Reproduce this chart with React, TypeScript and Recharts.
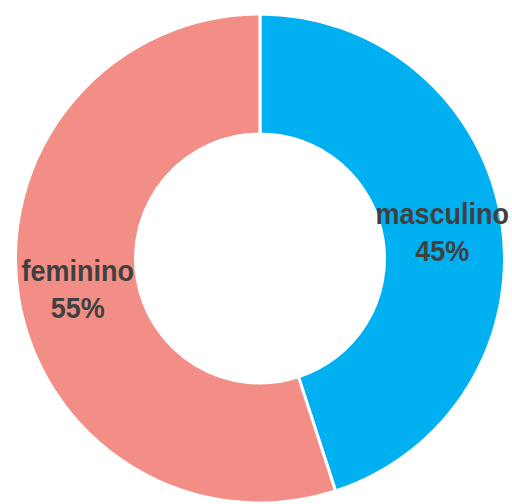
import { PieChart, Pie, Cell } from "recharts";

const categories = ["masculino", "feminino"];
const shares = [45, 55];
const COLORS = ["#00B0F0", "#F28E86"];

const data = categories.map((name, i) => ({ name, value: shares[i] }));

const RADIAN = Math.PI / 180;

const renderLabel = (props: any) => {
  const { cx, cy, midAngle, innerRadius, outerRadius, name, value } = props;
  const r = (innerRadius + outerRadius) / 2;
  const x = cx + r * Math.cos(-midAngle * RADIAN);
  const y = cy + r * Math.sin(-midAngle * RADIAN);
  // condensed look: squeeze the bold sans horizontally
  return (
    <text
      transform={`translate(${x}, ${y}) scale(0.9, 1)`}
      textAnchor="middle"
      fill="#404040"
      fontFamily="'Liberation Sans', Arial, sans-serif"
      fontWeight="bold"
      fontSize={30}
    >
      <tspan x={0} y={-6}>
        {name}
      </tspan>
      <tspan x={0} y={31}>
        {value}%
      </tspan>
    </text>
  );
};

const App = () => {
  return (
    <div style={{ position: "absolute", left: 0, top: 0 }}>
      <PieChart width={512} height={504} margin={{ top: 0, right: 0, bottom: 0, left: 0 }}>
        <Pie
          dataKey="value"
          data={data}
          cx={260}
          cy={258.5}
          innerRadius={124.5}
          outerRadius={244.5}
          startAngle={90}
          endAngle={-270}
          stroke="#FFFFFF"
          strokeWidth={3}
          label={renderLabel}
          labelLine={false}
          isAnimationActive={false}
        >
          {data.map((_entry, index) => (
            <Cell key={`cell-${index}`} fill={COLORS[index % COLORS.length]} />
          ))}
        </Pie>
      </PieChart>
    </div>
  );
};

export default App;
